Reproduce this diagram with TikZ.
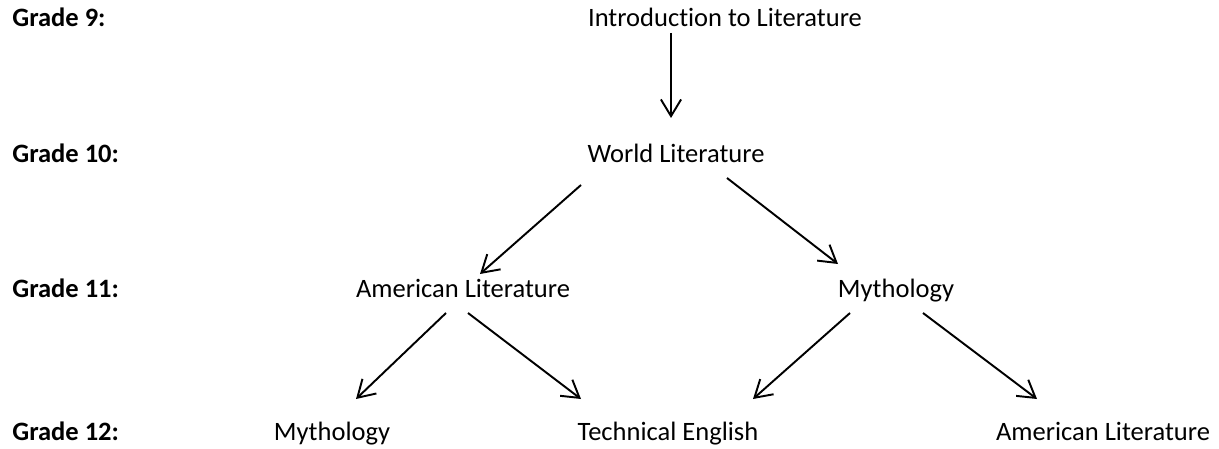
\documentclass[tikz,border=0pt]{standalone}
\usepackage{fontspec}
\setmainfont{Carlito}[Ligatures=CommonOff]
\usetikzlibrary{arrows.meta}

\tikzset{
    grade/.style={anchor=base west, inner sep=0pt, font=\fontsize{15.1}{18}\selectfont\bfseries},
    course/.style={anchor=base, inner sep=0pt, font=\fontsize{15.1}{18}\selectfont},
    link/.style={-{Straight Barb[length=9.5pt,width=11.5pt]}, line width=1.1pt}
}

\begin{document}
\begin{tikzpicture}[x=0.02cm, y=-0.02cm]
        % page frame
        \useasboundingbox[fill=white] (0,0) rectangle (1219,449);

        % Grade labels
        \node[grade] (g9)  at (12,27)  {Grade 9:};
        \node[grade] (g10) at (12,163) {Grade 10:};
        \node[grade] (g11) at (12,297) {Grade 11:};
        \node[grade] (g12) at (12,440) {Grade 12:};

        % Courses
        \node[course] (intro) at (725,27)  {Introduction to Literature};
        \node[course] (world) at (676,163) {World Literature};
        \node[course] (amlit) at (463,297) {American Literature};
        \node[course] (myth)  at (896,297) {Mythology};
        \node[course] (mythb) at (332,440) {Mythology};
        \node[course] (tech)  at (668,440) {Technical English};
        \node[course] (amlitb) at (1103,440) {American Literature};

        % Arrow end points
        \coordinate (introout) at (671,33);
        \coordinate (worldin)  at (671,118);
        \coordinate (worldl)   at (581,185);
        \coordinate (worldr)   at (727,178);
        \coordinate (amlitin)  at (480,274);
        \coordinate (mythin)   at (838,264);
        \coordinate (amlitl)   at (446,313);
        \coordinate (amlitr)   at (468,313);
        \coordinate (mythl)    at (850,313);
        \coordinate (mythr)    at (923,313);
        \coordinate (mythbin)  at (356,399);
        \coordinate (techinl)  at (581,399);
        \coordinate (techinr)  at (753,399);
        \coordinate (amlitbin) at (1037,399);

        % Arrows between the courses
        \draw[link] (introout) -- (worldin);
        \draw[link] (worldl) -- (amlitin);
        \draw[link] (worldr) -- (mythin);
        \draw[link] (amlitl) -- (mythbin);
        \draw[link] (amlitr) -- (techinl);
        \draw[link] (mythl) -- (techinr);
        \draw[link] (mythr) -- (amlitbin);
    \end{tikzpicture}
\end{document}
